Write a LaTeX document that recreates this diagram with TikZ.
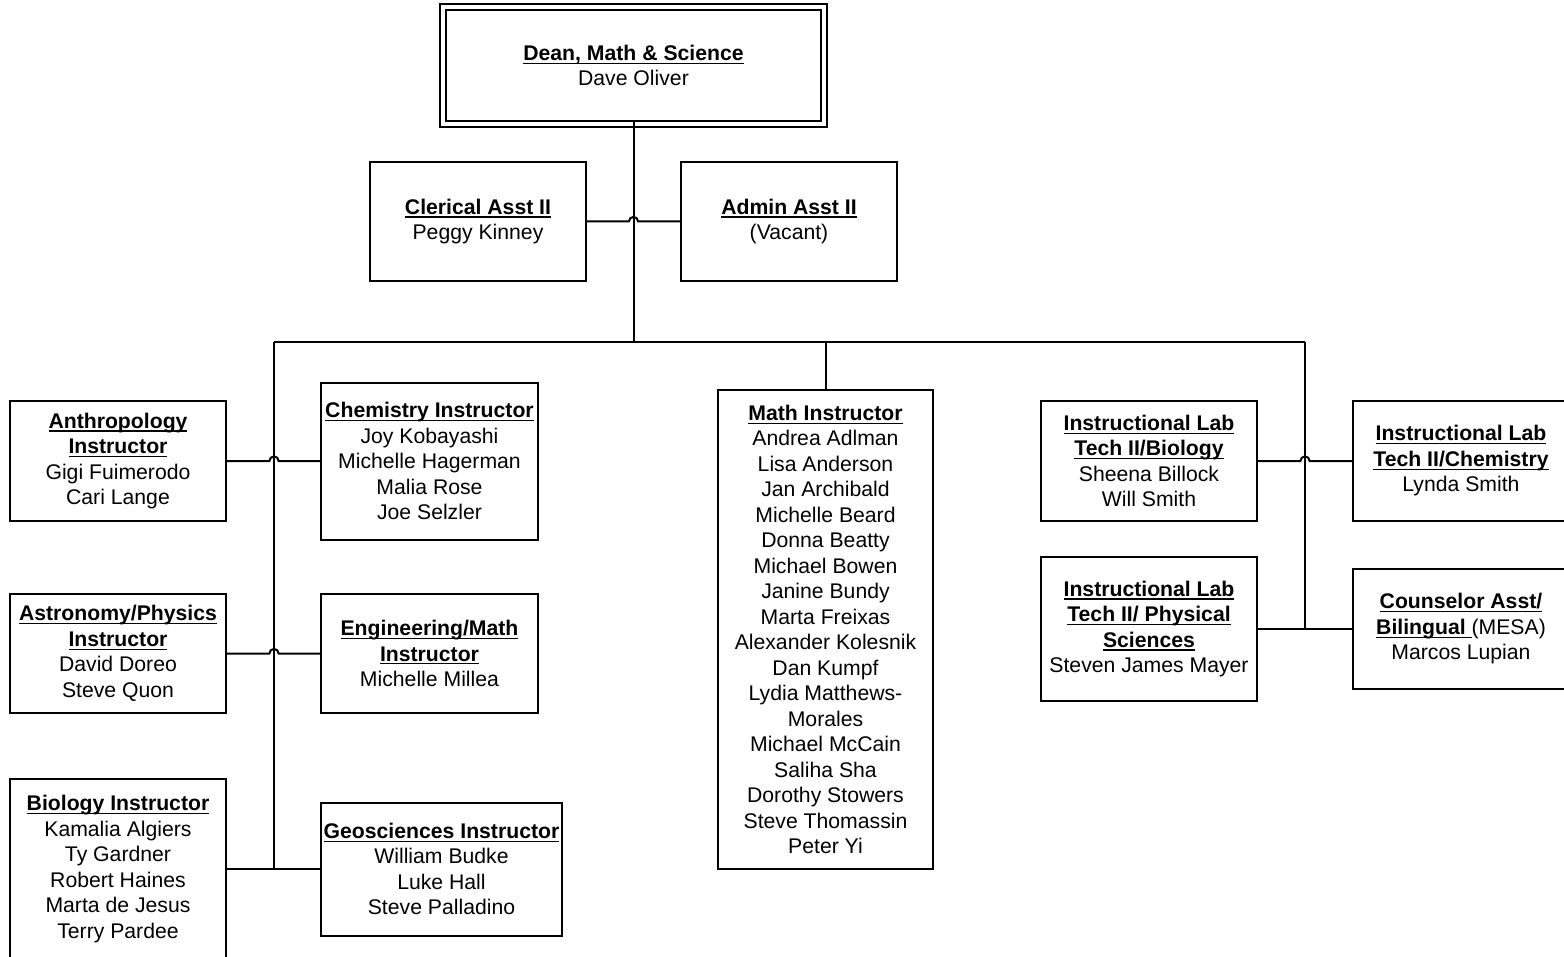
\documentclass[tikz,border=0pt]{standalone}
\usepackage{fontspec}
\setmainfont{Liberation Sans}
\newcommand\myul[1]{\setbox0\hbox{\textbf{#1}}\rlap{\rule[-1.7pt]{\wd0}{0.6pt}}\box0}
\begin{document}
\begin{tikzpicture}[x=0.5pt,y=-0.5pt,
  box/.style={draw, line width=1pt, align=center, inner sep=0pt,
    font=\fontsize{10.6}{12.75}\selectfont},
  wire/.style={line width=1pt}]
\path[use as bounding box] (0,0) rectangle (1564,957);
\clip (0,0) rectangle (1564,957);

% top
\node[box, minimum width=187.5pt, minimum height=55.5pt] (dean) at (633.5,65.5)
  {\myul{Dean, Math \& Science}\\Dave Oliver};
\draw[wire] ([shift={(-2.5pt,2.5pt)}]dean.north west) rectangle ([shift={(2.5pt,-2.5pt)}]dean.south east);
\node[box, minimum width=108pt, minimum height=59.5pt] (cler) at (478,221.5)
  {\myul{Clerical Asst II}\\Peggy Kinney};
\node[box, minimum width=108pt, minimum height=59.5pt] (admin) at (789,221.5)
  {\myul{Admin Asst II}\\(Vacant)};

% left column
\node[box, minimum width=108pt, minimum height=60pt] (anth) at (118,461)
  {\myul{Anthropology}\\\myul{Instructor}\\Gigi Fuimerodo\\Cari Lange};
\node[box, minimum width=108.5pt, minimum height=78.5pt] (chem) at (429.5,461)
  {\myul{Chemistry Instructor}\\Joy Kobayashi\\Michelle Hagerman\\Malia Rose\\Joe Selzler};
\node[box, minimum width=108pt, minimum height=59.5pt] (astro) at (118,653.5)
  {\myul{Astronomy/Physics}\\\myul{Instructor}\\David Doreo\\Steve Quon};
\node[box, minimum width=108.5pt, minimum height=59.5pt] (eng) at (429.5,653.5)
  {\myul{Engineering/Math}\\\myul{Instructor}\\Michelle Millea};
\node[box, minimum width=108pt, minimum height=90pt] (bio) at (118,869)
  {\myul{Biology Instructor}\\Kamalia Algiers\\Ty Gardner\\Robert Haines\\Marta de Jesus\\Terry Pardee};
\node[box, minimum width=120.5pt, minimum height=66.5pt] (geo) at (441.5,869)
  {\myul{Geosciences Instructor}\\William Budke\\Luke Hall\\Steve Palladino};

% math
\node[box, minimum width=107.5pt, minimum height=239.5pt] (math) at (825.5,629.5)
  {\myul{Math Instructor}\\Andrea Adlman\\Lisa Anderson\\Jan Archibald\\Michelle Beard\\Donna Beatty\\Michael Bowen\\Janine Bundy\\Marta Freixas\\Alexander Kolesnik\\Dan Kumpf\\Lydia Matthews-\\Morales\\Michael McCain\\Saliha Sha\\Dorothy Stowers\\Steve Thomassin\\Peter Yi};

% right
\node[box, minimum width=108pt, minimum height=60pt] (iltb) at (1149,461)
  {\myul{Instructional Lab}\\\myul{Tech II/Biology}\\Sheena Billock\\Will Smith};
\node[box, minimum width=108pt, minimum height=60pt] (iltc) at (1461,461)
  {\myul{Instructional Lab}\\\myul{Tech II/Chemistry}\\Lynda Smith};
\node[box, minimum width=108pt, minimum height=72pt] (iltp) at (1149,629)
  {\myul{Instructional Lab}\\\myul{Tech II/ Physical}\\\myul{Sciences}\\Steven James Mayer};
\node[box, minimum width=108pt, minimum height=60pt] (couns) at (1461,629)
  {\myul{Counselor Asst/}\\\myul{Bilingual }(MESA)\\Marcos Lupian};

% bus coordinates
\coordinate (busL) at (274,342);
\coordinate (busR) at (1305,342);
\coordinate (busD) at (633.5,342);
\coordinate (busM) at (825.5,342);

% connectors
\draw[wire] (dean.south) -- (busD);
\draw[wire] (busL) -- (busR);
\draw[wire] (busM) -- (math.north);
\draw[wire] (busL) -- (bio.east -| busL);
\draw[wire] (busR) -- (iltp.east -| busR);
\draw[wire] (cler.east) -- ([xshift=-2.3pt]cler.east -| busD) arc[start angle=180,end angle=0,radius=2.3pt] -- (admin.west);
\draw[wire] (anth.east) -- ([xshift=-2.3pt]anth.east -| busL) arc[start angle=180,end angle=0,radius=2.3pt] -- (chem.west);
\draw[wire] (astro.east) -- ([xshift=-2.3pt]astro.east -| busL) arc[start angle=180,end angle=0,radius=2.3pt] -- (eng.west);
\draw[wire] (bio.east) -- (geo.west);
\draw[wire] (iltb.east) -- ([xshift=-2.3pt]iltb.east -| busR) arc[start angle=180,end angle=0,radius=2.3pt] -- (iltc.west);
\draw[wire] (iltp.east) -- (couns.west);
\end{tikzpicture}
\end{document}
